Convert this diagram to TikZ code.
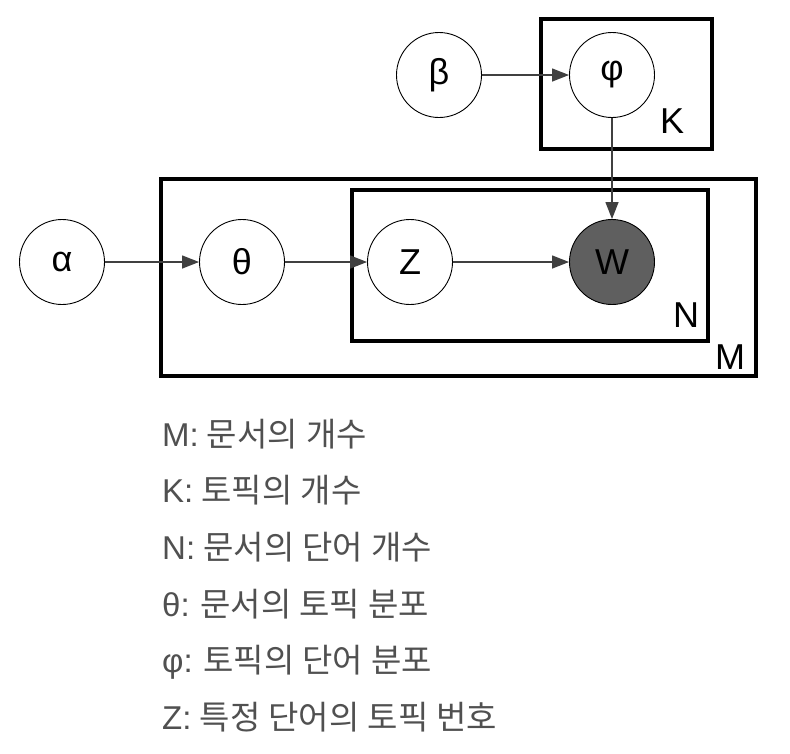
\documentclass[tikz,border=0pt]{standalone}
\usepackage{fontspec}
\setmainfont{Liberation Sans}
\newfontfamily\krfont[WordSpace=1.1]{Noto Sans CJK KR}
\newfontfamily\prefont{Liberation Sans}
\usetikzlibrary{arrows.meta}
\definecolor{wfill}{HTML}{5F5F5F}
\definecolor{arrowc}{HTML}{404040}
\definecolor{txtc}{HTML}{505050}
\newcommand{\pre}[1]{{\prefont #1}}
\tikzset{
  var/.style={circle, draw=black, line width=0.9pt, minimum size=85pt, inner sep=0pt, font=\fontsize{36}{42}\selectfont},
  obs/.style={var, fill=wfill},
  plate/.style={draw=black, line width=3.5pt},
  platelabel/.style={font=\fontsize{36}{42}\selectfont, inner sep=0pt},
  edge/.style={draw=arrowc, line width=1.3pt, -{Triangle[length=17pt,width=13pt]}},
  legend/.style={anchor=base west, inner sep=0pt, text=txtc, font=\krfont\fontsize{33}{38}\selectfont}
}
\begin{document}
\begin{tikzpicture}[x=1pt,y=-1pt]
\useasboundingbox (0,0) rectangle (790,753);
% plates
\draw[plate] (541,19) rectangle (712,149);
\draw[plate] (161,179) rectangle (756,376);
\draw[plate] (352,190) rectangle (708,341);
\node[platelabel] (lk) at (672,121) {K};
\node[platelabel] (lm) at (730,357) {M};
\node[platelabel] (ln) at (686,315) {N};
% variables
\node[var] (beta) at (439,75) {β};
\node[var, fill=white] (phi) at (612,75) {φ};
\node[var] (alpha) at (62,262) {α};
\node[var, fill=white] (theta) at (242,262) {θ};
\node[var, fill=white] (z) at (410,262) {Z};
\node[obs] (w) at (612,262) {W};
% edges
\draw[edge] (beta) -- (phi);
\draw[edge] (phi) -- (w);
\draw[edge] (alpha) -- (theta);
\draw[edge] (theta) -- (z);
\draw[edge] (z) -- (w);
% legend
\node[legend] (t1) at (162,446) {\pre{M:} 문서의 개수};
\node[legend] (t2) at (162,502) {\pre{K:} 토픽의 개수};
\node[legend] (t3) at (162,559) {\pre{N:} 문서의 단어 개수};
\node[legend] (t4) at (162,616) {\pre{θ:} 문서의 토픽 분포};
\node[legend] (t5) at (162,672) {\pre{φ:} 토픽의 단어 분포};
\node[legend] (t6) at (162,729) {\pre{Z:} 특정 단어의 토픽 번호};
\end{tikzpicture}
\end{document}
